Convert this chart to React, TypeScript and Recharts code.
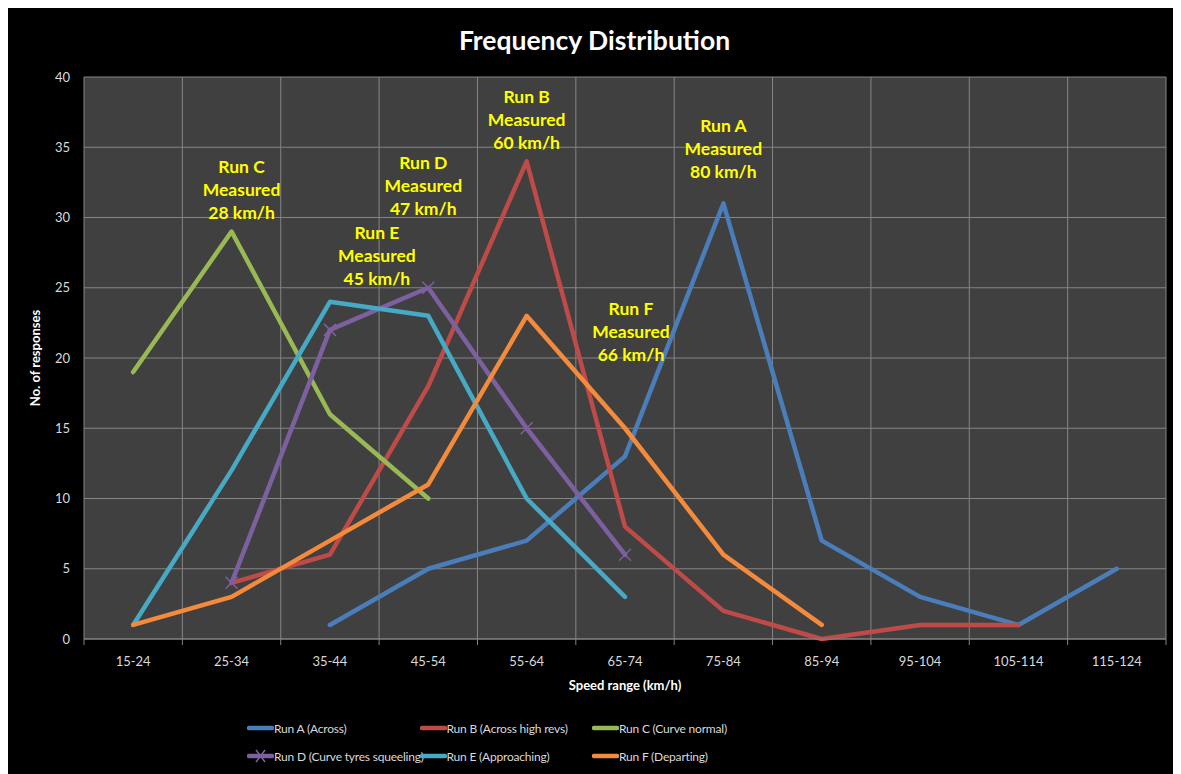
import { LineChart, Line, XAxis, YAxis, CartesianGrid, ReferenceDot } from "recharts";

// the chart fills the window edge to edge; keep the page from scrolling
document.documentElement.style.overflow = "hidden";
document.body.style.overflow = "hidden";

const CATEGORIES = ["15-24", "25-34", "35-44", "45-54", "55-64", "65-74", "75-84", "85-94", "95-104", "105-114", "115-124"];

const RUN_A = [null, null, 1, 5, 7, 13, 31, 7, 3, 1, 5];
const RUN_B = [null, 4, 6, 18, 34, 8, 2, 0, 1, 1, null];
const RUN_C = [19, 29, 16, 10, null, null, null, null, null, null, null];
const RUN_D = [null, 4, 22, 25, 15, 6, null, null, null, null, null];
const RUN_E = [1, 12, 24, 23, 10, 3, null, null, null, null, null];
const RUN_F = [1, 3, 7, 11, 23, 15, 6, 1, null, null, null];

const Y_TICKS = [0, 5, 10, 15, 20, 25, 30, 35, 40];

const SERIES = [
  { key: "a", name: "Run A (Across)", values: RUN_A, color: "#4A7EBB" },
  { key: "b", name: "Run B (Across high revs)", values: RUN_B, color: "#BE4B48" },
  { key: "c", name: "Run C (Curve normal)", values: RUN_C, color: "#98B954" },
  { key: "d", name: "Run D (Curve tyres squeeling)", values: RUN_D, color: "#7D60A0", cross: true },
  { key: "e", name: "Run E (Approaching)", values: RUN_E, color: "#46AAC5" },
  { key: "f", name: "Run F (Departing)", values: RUN_F, color: "#F38A3C" },
];

// callouts: category, value at the middle line, small horizontal nudge
const NOTES = [
  { lines: ["Run C", "Measured", "28 km/h"], cat: "25-34", y: 32, dx: 10 },
  { lines: ["Run D", "Measured", "47 km/h"], cat: "45-54", y: 32.3, dx: -5 },
  { lines: ["Run E", "Measured", "45 km/h"], cat: "35-44", y: 27.3, dx: 47 },
  { lines: ["Run B", "Measured", "60 km/h"], cat: "55-64", y: 37, dx: 0 },
  { lines: ["Run A", "Measured", "80 km/h"], cat: "75-84", y: 34.9, dx: 0 },
  { lines: ["Run F", "Measured", "66 km/h"], cat: "65-74", y: 21.9, dx: 6 },
];

const data = CATEGORIES.map((cat, i) => {
  const row: Record<string, any> = { cat };
  SERIES.forEach((s) => (row[s.key] = s.values[i]));
  return row;
});

const FONT = "Lato, 'Open Sans', sans-serif";
const GRID = "#858585";
const TEXT = "#d9d9d9";

const Cross = (props: any) => {
  const { cx, cy, stroke } = props;
  if (cx == null || cy == null || props.value == null) return null;
  const r = 6;
  return (
    <g stroke={stroke} strokeWidth={1.5}>
      <line x1={cx - r} y1={cy - r} x2={cx + r} y2={cy + r} />
      <line x1={cx - r} y1={cy + r} x2={cx + r} y2={cy - r} />
    </g>
  );
};

const XTick = (props: any) => {
  const { x, y, payload, index } = props;
  const half = payload.offset || 0;
  return (
    <g>
      <line x1={x - half} y1={y} x2={x - half} y2={y + 6} stroke={GRID} />
      {index === CATEGORIES.length - 1 && <line x1={x + half} y1={y} x2={x + half} y2={y + 6} stroke={GRID} />}
      <text x={x} y={y + 22} textAnchor="middle" dominantBaseline="central" fill={TEXT} fontSize={13} fontFamily={FONT}>
        {payload.value}
      </text>
    </g>
  );
};

const Note = (lines: string[], dx: number) => (props: any) => {
  const { cx, cy } = props;
  return (
    <g>
      {lines.map((t, i) => (
        <text
          key={t}
          x={cx + dx}
          y={cy + (i - 1) * 23}
          textAnchor="middle"
          dominantBaseline="central"
          fill="#FFFF00"
          fontSize={17.5}
          fontWeight="bold"
          fontFamily={FONT}
        >
          {t}
        </text>
      ))}
    </g>
  );
};

export default function App() {
  return (
    <div style={{ width: 1200, height: 766, background: "#000" }}>
      <div style={{ position: "relative", width: 1173, height: 766, background: "#000", fontFamily: FONT }}>
        <div
          style={{
            position: "absolute",
            top: 16,
            left: 0,
            width: 1173,
            textAlign: "center",
            color: "#fff",
            fontWeight: "bold",
            fontSize: 26.5,
            lineHeight: "32px",
          }}
        >
          Frequency Distribution
        </div>

        <LineChart width={1173} height={766} data={data} margin={{ top: 69, right: 15, left: 0, bottom: 0 }}>
          <CartesianGrid
            stroke={GRID}
            fill="#404040"
            verticalCoordinatesGenerator={({ offset }: any) =>
              Array.from({ length: CATEGORIES.length + 1 }, (_, i) => offset.left + (i * offset.width) / CATEGORIES.length)
            }
          />
          <XAxis
            dataKey="cat"
            scale="band"
            height={135}
            tickSize={0}
            tickMargin={0}
            tickLine={false}
            stroke={GRID}
            interval={0}
            tick={<XTick />}
            label={(p: any) => {
              const vb = p.viewBox;
              return (
                <text x={vb.x + vb.width / 2} y={vb.y + 46} textAnchor="middle" dominantBaseline="central" fill="#fff" fontSize={13} fontWeight="bold" fontFamily={FONT}>
                  Speed range (km/h)
                </text>
              );
            }}
          />
          <YAxis
            width={76}
            domain={[0, 40]}
            ticks={Y_TICKS}
            axisLine={false}
            tickLine={false}
            tickSize={0}
            tickMargin={14}
            tick={{ fill: TEXT, fontSize: 13, fontFamily: FONT }}
            label={(p: any) => {
              const vb = p.viewBox;
              const x = vb.x + 27;
              const y = vb.y + vb.height / 2;
              return (
                <text x={x} y={y} transform={`rotate(-90, ${x}, ${y})`} textAnchor="middle" dominantBaseline="central" fill="#fff" fontSize={13} fontWeight="bold" fontFamily={FONT}>
                  No. of responses
                </text>
              );
            }}
          />
          {SERIES.map((s) => (
            <Line
              key={s.key}
              dataKey={s.key}
              name={s.name}
              stroke={s.color}
              strokeWidth={4.5}
              strokeLinecap="round"
              strokeLinejoin="round"
              dot={s.cross ? <Cross stroke={s.color} /> : false}
              activeDot={false}
              isAnimationActive={false}
            />
          ))}
          {NOTES.map((n) => (
            <ReferenceDot key={n.lines[0]} x={n.cat} y={n.y} r={0} shape={Note(n.lines, n.dx)} ifOverflow="visible" />
          ))}
        </LineChart>

        <div
          style={{
            position: "absolute",
            top: 706,
            left: 239,
            display: "grid",
            gridTemplateColumns: "172.5px 172.5px 172.5px",
            rowGap: 0,
          }}
        >
          {SERIES.map((s) => (
            <div key={s.key} style={{ display: "flex", alignItems: "center", height: 28, whiteSpace: "nowrap", color: TEXT, fontSize: 12, letterSpacing: -0.2 }}>
              <svg width={27} height={14} style={{ flex: "none" }}>
                <line x1={2} y1={7} x2={25} y2={7} stroke={s.color} strokeWidth={4.5} strokeLinecap="round" />
                {s.cross && (
                  <g stroke={s.color} strokeWidth={1.5}>
                    <line x1={9} y1={1} x2={18} y2={13} />
                    <line x1={9} y1={13} x2={18} y2={1} />
                  </g>
                )}
              </svg>
              <span>{s.name}</span>
            </div>
          ))}
        </div>
      </div>
    </div>
  );
}
